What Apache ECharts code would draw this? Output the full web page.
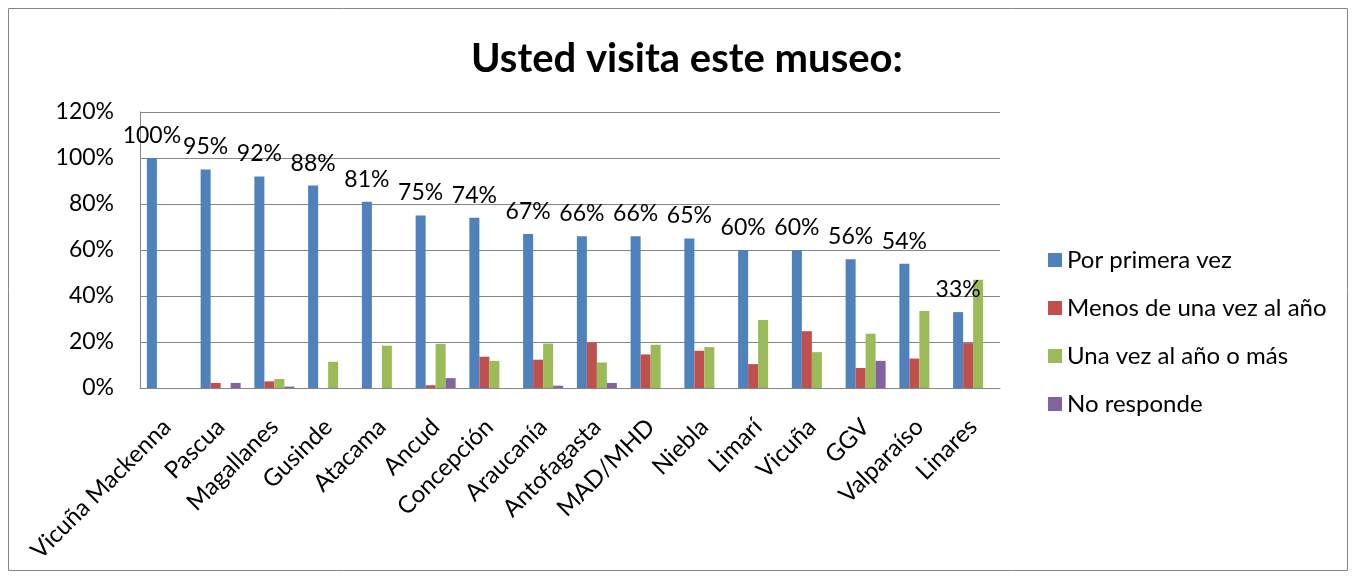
<!DOCTYPE html>
<html>
<head>
<meta charset="utf-8">
<script src="https://cdn.jsdelivr.net/npm/echarts@6/dist/echarts.min.js"></script>
<style>
  html, body { margin: 0; padding: 0; background: #fff; }
  #chart { width: 1356px; height: 579px; }
</style>
</head>
<body>
<div id="chart"></div>
<script>
// Museum visit frequency by museum (percent of respondents)
const categories = ['Vicuña Mackenna', 'Pascua', 'Magallanes', 'Gusinde', 'Atacama', 'Ancud',
  'Concepción', 'Araucanía', 'Antofagasta', 'MAD/MHD', 'Niebla', 'Limarí', 'Vicuña', 'GGV',
  'Valparaíso', 'Linares'];
const porPrimeraVez = [100, 95, 92, 88, 81, 75, 74, 67, 66, 66, 65, 60, 60, 56, 54, 33];
const menosDeUnaVez = [0, 2.2, 2.9, 0, 0, 1.2, 13.6, 12.3, 19.7, 14.6, 16.2, 10.4, 24.7, 8.7, 12.8, 19.5];
const unaVezOMas = [0, 0, 3.9, 11.4, 18.4, 19.2, 11.8, 19.3, 11.1, 18.8, 17.8, 29.6, 15.6, 23.6, 33.5, 47.1];
const noResponde = [0, 2.2, 0.6, 0, 0, 4.3, 0, 1.0, 2.2, 0, 0, 0, 0, 11.8, 0, 0];
const seriesNames = ['Por primera vez', 'Menos de una vez al año', 'Una vez al año o más', 'No responde'];
const yTicks = { min: 0, max: 120, interval: 20 };

const FONT = 'Lato, "Liberation Sans", sans-serif';
const colors = ['#4F81BD', '#C0504D', '#9BBB59', '#8064A2'];

const chart = echarts.init(document.getElementById('chart'), null, { renderer: 'canvas' });

function barSeries(name, data, color, withLabel) {
  return {
    name: name,
    type: 'bar',
    data: data,
    barWidth: 10,
    barGap: '0%',
    itemStyle: { color: color },
    label: withLabel ? {
      show: true,
      position: 'top',
      distance: 11,
      fontFamily: FONT,
      fontSize: 23,
      color: '#000',
      formatter: p => Math.round(p.value) + '%'
    } : { show: false },
    emphasis: { disabled: true }
  };
}

chart.setOption({
  animation: false,
  color: colors,
  title: {
    text: 'Usted visita este museo:',
    left: 466,
    top: 34,
    textStyle: { fontFamily: FONT, fontSize: 40, fontWeight: 'bold', color: '#000' }
  },
  graphic: [{
    type: 'rect',
    shape: { x: 8.5, y: 8.5, width: 1339, height: 562 },
    style: { fill: 'none', stroke: '#868686', lineWidth: 1 },
    silent: true
  }],
  legend: {
    orient: 'vertical',
    left: 1043,
    top: 243,
    itemWidth: 14,
    itemHeight: 14,
    itemGap: 24,
    icon: 'rect',
    textStyle: { fontFamily: FONT, fontSize: 24, color: '#000', padding: [0, 0, 0, 0] },
    data: seriesNames
  },
  grid: { left: 140, right: 356, top: 112, bottom: 191, containLabel: false },
  xAxis: {
    type: 'category',
    data: categories,
    axisLine: { show: true, lineStyle: { color: '#868686', width: 1 } },
    axisTick: { show: false },
    axisLabel: {
      interval: 0,
      rotate: 45,
      margin: 35,
      fontFamily: FONT,
      fontSize: 24,
      color: '#000'
    }
  },
  yAxis: {
    type: 'value',
    min: yTicks.min,
    max: yTicks.max,
    interval: yTicks.interval,
    axisLine: { show: true, lineStyle: { color: '#868686', width: 1 } },
    axisTick: { show: false },
    splitLine: { show: true, lineStyle: { color: '#868686', width: 1 } },
    axisLabel: {
      fontFamily: FONT,
      fontSize: 23,
      color: '#000',
      margin: 26,
      formatter: v => v + '%'
    }
  },
  series: [
    barSeries(seriesNames[0], porPrimeraVez, colors[0], true),
    barSeries(seriesNames[1], menosDeUnaVez, colors[1], false),
    barSeries(seriesNames[2], unaVezOMas, colors[2], false),
    barSeries(seriesNames[3], noResponde, colors[3], false)
  ]
});
</script>
</body>
</html>
